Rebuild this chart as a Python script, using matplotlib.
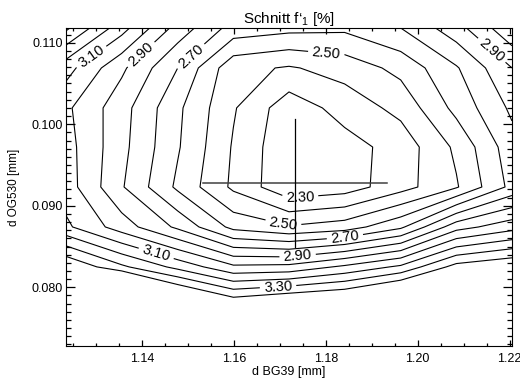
import numpy as np
import matplotlib
matplotlib.use("Agg")
import matplotlib.pyplot as plt
from matplotlib.ticker import MultipleLocator, FormatStrFormatter

plt.rcParams['font.family'] = ['Liberation Sans', 'DejaVu Sans']
plt.rcParams['mathtext.fontset'] = 'custom'
plt.rcParams['mathtext.rm'] = 'Liberation Sans'
plt.rcParams['mathtext.it'] = 'Liberation Sans'

# grid of the scan (d BG39, d OG530) and the value f'1 in %
bg39 = [1.1235, 1.1356, 1.1478, 1.1599, 1.1720, 1.1841, 1.1963, 1.2084, 1.2205]
og530 = [0.1118, 0.1069, 0.1020, 0.0972, 0.0923, 0.0874, 0.0825, 0.0777, 0.0728]
f1 = [
    [3.42, 3.14, 2.86, 2.66, 2.63, 2.62, 2.70, 2.86, 3.08],
    [3.14, 2.92, 2.70, 2.43, 2.39, 2.44, 2.53, 2.69, 2.90],
    [3.02, 2.84, 2.62, 2.41, 2.24, 2.34, 2.43, 2.63, 2.82],
    [3.04, 2.83, 2.61, 2.39, 2.22, 2.26, 2.34, 2.52, 2.76],
    [3.05, 2.81, 2.58, 2.38, 2.22, 2.25, 2.36, 2.49, 2.73],
    [3.12, 2.95, 2.78, 2.57, 2.51, 2.55, 2.68, 2.96, 3.06],
    [3.50, 3.32, 3.17, 3.02, 3.03, 3.12, 3.22, 3.44, 3.50],
    [4.00, 4.10, 3.68, 3.51, 3.58, 3.61, 3.75, 3.90, 4.00],
    [4.30, 4.30, 4.10, 4.00, 4.00, 4.00, 4.10, 4.20, 4.30],
]
label_levels = [2.3, 2.5, 2.7, 2.9, 3.1, 3.3]
plain_levels = [2.4, 2.6, 2.8, 3.0, 3.2, 3.4]
# where the contour labels sit
label_spots = [
    (1.1300, 0.1075), (1.1396, 0.1087), (1.1507, 0.1083), (1.1802, 0.1093),
    (1.2146, 0.1081), (1.1744, 0.0911), (1.1707, 0.0876), (1.1841, 0.0864),
    (1.1739, 0.0837), (1.1433, 0.0845), (1.1696, 0.0803),
]

# nominal design point with tolerance cross
center = (1.1733, 0.0928)
cross_x = [1.1533, 1.1933]
cross_y = [0.0850, 0.1007]

fig = plt.figure(figsize=(5.2, 3.81), dpi=100)
ax = fig.add_axes([0.1269, 0.0919, 0.8577, 0.8346])

X, Y = np.meshgrid(bg39, og530[::-1])
Z = np.array(f1)[::-1]
ax.contour(X, Y, Z, levels=plain_levels, colors='black', linewidths=0.8)
cs = ax.contour(X, Y, Z, levels=label_levels, colors='black', linewidths=0.8)
ax.clabel(cs, fmt='%.2f', fontsize=10.5, inline=True, inline_spacing=4,
          manual=label_spots)

ax.plot(cross_x, [center[1], center[1]], color='0.25', lw=1.1)
ax.plot([center[0], center[0]], cross_y, color='black', lw=0.9)

ax.set_xlim(1.1235, 1.2205)
ax.set_ylim(0.0728, 0.1118)
ax.xaxis.set_major_locator(MultipleLocator(0.02))
ax.xaxis.set_minor_locator(MultipleLocator(0.005))
ax.yaxis.set_major_locator(MultipleLocator(0.01))
ax.yaxis.set_minor_locator(MultipleLocator(0.001))
ax.xaxis.set_major_formatter(FormatStrFormatter('%.2f'))
ax.yaxis.set_major_formatter(FormatStrFormatter('%.3f'))
ax.tick_params(which='both', direction='in', top=True, right=True, labelsize=9, width=0.9)
ax.tick_params(axis='x', which='major', length=4.5, pad=5)
ax.tick_params(axis='x', which='minor', length=2.2)
ax.tick_params(axis='y', which='major', length=6.5, pad=2.5)
ax.tick_params(axis='y', which='minor', length=3.5)

ax.set_xlabel('d BG39 [mm]', fontsize=9, labelpad=1)
ax.set_ylabel('d OG530 [mm]', fontsize=8.5, labelpad=8)
ax.set_title("Schnitt f\u2018$_1$ [%]", fontsize=11, pad=3.5)

fig.savefig('out.png', dpi=100)
